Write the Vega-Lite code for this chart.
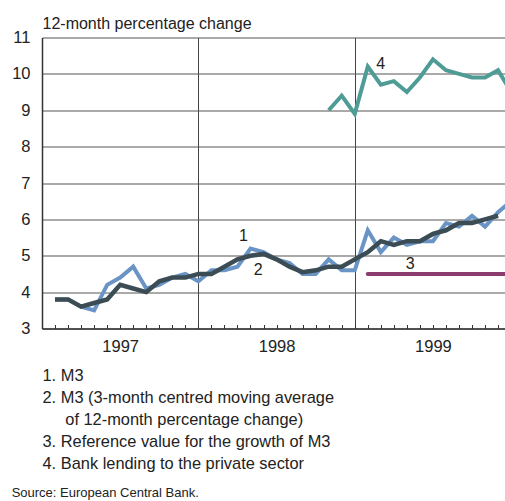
{
  "$schema": "https://vega.github.io/schema/vega-lite/v6.json",
  "width": 463,
  "height": 291,
  "autosize": {"type": "none"},
  "padding": {"left": 42, "top": 37.5, "right": 0, "bottom": 172.5},
  "background": "white",
  "config": {
    "view": {"stroke": null},
    "font": "Liberation Sans",
    "text": {"font": "Liberation Sans"}
  },
  "title": {
    "text": "Source: European Central Bank.",
    "orient": "bottom",
    "anchor": "start",
    "fontSize": 13,
    "fontWeight": "normal",
    "color": "#222222",
    "offset": 15
  },
  "datasets": {
    "series": [
      {"series": "M3", "month": "1997-01", "m": 1, "value": 3.8},
      {"series": "M3", "month": "1997-02", "m": 2, "value": 3.8},
      {"series": "M3", "month": "1997-03", "m": 3, "value": 3.6},
      {"series": "M3", "month": "1997-04", "m": 4, "value": 3.5},
      {"series": "M3", "month": "1997-05", "m": 5, "value": 4.2},
      {"series": "M3", "month": "1997-06", "m": 6, "value": 4.4},
      {"series": "M3", "month": "1997-07", "m": 7, "value": 4.7},
      {"series": "M3", "month": "1997-08", "m": 8, "value": 4.1},
      {"series": "M3", "month": "1997-09", "m": 9, "value": 4.2},
      {"series": "M3", "month": "1997-10", "m": 10, "value": 4.4},
      {"series": "M3", "month": "1997-11", "m": 11, "value": 4.5},
      {"series": "M3", "month": "1997-12", "m": 12, "value": 4.3},
      {"series": "M3", "month": "1998-01", "m": 13, "value": 4.6},
      {"series": "M3", "month": "1998-02", "m": 14, "value": 4.6},
      {"series": "M3", "month": "1998-03", "m": 15, "value": 4.7},
      {"series": "M3", "month": "1998-04", "m": 16, "value": 5.2},
      {"series": "M3", "month": "1998-05", "m": 17, "value": 5.1},
      {"series": "M3", "month": "1998-06", "m": 18, "value": 4.9},
      {"series": "M3", "month": "1998-07", "m": 19, "value": 4.8},
      {"series": "M3", "month": "1998-08", "m": 20, "value": 4.5},
      {"series": "M3", "month": "1998-09", "m": 21, "value": 4.5},
      {"series": "M3", "month": "1998-10", "m": 22, "value": 4.9},
      {"series": "M3", "month": "1998-11", "m": 23, "value": 4.6},
      {"series": "M3", "month": "1998-12", "m": 24, "value": 4.6},
      {"series": "M3", "month": "1999-01", "m": 25, "value": 5.7},
      {"series": "M3", "month": "1999-02", "m": 26, "value": 5.1},
      {"series": "M3", "month": "1999-03", "m": 27, "value": 5.5},
      {"series": "M3", "month": "1999-04", "m": 28, "value": 5.3},
      {"series": "M3", "month": "1999-05", "m": 29, "value": 5.4},
      {"series": "M3", "month": "1999-06", "m": 30, "value": 5.4},
      {"series": "M3", "month": "1999-07", "m": 31, "value": 5.9},
      {"series": "M3", "month": "1999-08", "m": 32, "value": 5.8},
      {"series": "M3", "month": "1999-09", "m": 33, "value": 6.1},
      {"series": "M3", "month": "1999-10", "m": 34, "value": 5.8},
      {"series": "M3", "month": "1999-11", "m": 35, "value": 6.2},
      {"series": "M3", "month": "1999-12", "m": 36, "value": 6.5},
      {"series": "M3 3-month average", "month": "1997-01", "m": 1, "value": 3.8},
      {"series": "M3 3-month average", "month": "1997-02", "m": 2, "value": 3.8},
      {"series": "M3 3-month average", "month": "1997-03", "m": 3, "value": 3.6},
      {"series": "M3 3-month average", "month": "1997-04", "m": 4, "value": 3.7},
      {"series": "M3 3-month average", "month": "1997-05", "m": 5, "value": 3.8},
      {"series": "M3 3-month average", "month": "1997-06", "m": 6, "value": 4.2},
      {"series": "M3 3-month average", "month": "1997-07", "m": 7, "value": 4.1},
      {"series": "M3 3-month average", "month": "1997-08", "m": 8, "value": 4.0},
      {"series": "M3 3-month average", "month": "1997-09", "m": 9, "value": 4.3},
      {"series": "M3 3-month average", "month": "1997-10", "m": 10, "value": 4.4},
      {"series": "M3 3-month average", "month": "1997-11", "m": 11, "value": 4.4},
      {"series": "M3 3-month average", "month": "1997-12", "m": 12, "value": 4.5},
      {"series": "M3 3-month average", "month": "1998-01", "m": 13, "value": 4.5},
      {"series": "M3 3-month average", "month": "1998-02", "m": 14, "value": 4.7},
      {"series": "M3 3-month average", "month": "1998-03", "m": 15, "value": 4.9},
      {"series": "M3 3-month average", "month": "1998-04", "m": 16, "value": 5.0},
      {"series": "M3 3-month average", "month": "1998-05", "m": 17, "value": 5.05},
      {"series": "M3 3-month average", "month": "1998-06", "m": 18, "value": 4.9},
      {"series": "M3 3-month average", "month": "1998-07", "m": 19, "value": 4.7},
      {"series": "M3 3-month average", "month": "1998-08", "m": 20, "value": 4.55},
      {"series": "M3 3-month average", "month": "1998-09", "m": 21, "value": 4.6},
      {"series": "M3 3-month average", "month": "1998-10", "m": 22, "value": 4.7},
      {"series": "M3 3-month average", "month": "1998-11", "m": 23, "value": 4.7},
      {"series": "M3 3-month average", "month": "1998-12", "m": 24, "value": 4.9},
      {"series": "M3 3-month average", "month": "1999-01", "m": 25, "value": 5.1},
      {"series": "M3 3-month average", "month": "1999-02", "m": 26, "value": 5.4},
      {"series": "M3 3-month average", "month": "1999-03", "m": 27, "value": 5.3},
      {"series": "M3 3-month average", "month": "1999-04", "m": 28, "value": 5.4},
      {"series": "M3 3-month average", "month": "1999-05", "m": 29, "value": 5.4},
      {"series": "M3 3-month average", "month": "1999-06", "m": 30, "value": 5.6},
      {"series": "M3 3-month average", "month": "1999-07", "m": 31, "value": 5.7},
      {"series": "M3 3-month average", "month": "1999-08", "m": 32, "value": 5.9},
      {"series": "M3 3-month average", "month": "1999-09", "m": 33, "value": 5.9},
      {"series": "M3 3-month average", "month": "1999-10", "m": 34, "value": 6.0},
      {"series": "M3 3-month average", "month": "1999-11", "m": 35, "value": 6.1},
      {"series": "Reference value", "month": "1999-01", "m": 25, "value": 4.5},
      {"series": "Reference value", "month": "1999-12", "m": 36, "value": 4.5},
      {"series": "Bank lending", "month": "1998-10", "m": 22, "value": 9.0},
      {"series": "Bank lending", "month": "1998-11", "m": 23, "value": 9.4},
      {"series": "Bank lending", "month": "1998-12", "m": 24, "value": 8.9},
      {"series": "Bank lending", "month": "1999-01", "m": 25, "value": 10.2},
      {"series": "Bank lending", "month": "1999-02", "m": 26, "value": 9.7},
      {"series": "Bank lending", "month": "1999-03", "m": 27, "value": 9.8},
      {"series": "Bank lending", "month": "1999-04", "m": 28, "value": 9.5},
      {"series": "Bank lending", "month": "1999-05", "m": 29, "value": 9.9},
      {"series": "Bank lending", "month": "1999-06", "m": 30, "value": 10.4},
      {"series": "Bank lending", "month": "1999-07", "m": 31, "value": 10.1},
      {"series": "Bank lending", "month": "1999-08", "m": 32, "value": 10.0},
      {"series": "Bank lending", "month": "1999-09", "m": 33, "value": 9.9},
      {"series": "Bank lending", "month": "1999-10", "m": 34, "value": 9.9},
      {"series": "Bank lending", "month": "1999-11", "m": 35, "value": 10.1},
      {"series": "Bank lending", "month": "1999-12", "m": 36, "value": 9.5}
    ],
    "labels": [
      {"label": "1", "m": 15.45, "value": 5.54},
      {"label": "2", "m": 16.6, "value": 4.61},
      {"label": "3", "m": 28.25, "value": 4.77},
      {"label": "4", "m": 26.0, "value": 10.26}
    ]
  },
  "encoding": {
    "x": {
      "field": "m",
      "type": "quantitative",
      "scale": {"domain": [0, 35.53], "nice": false, "zero": false},
      "axis": {
        "values": [1, 2, 3, 4, 5, 6, 7, 8, 9, 10, 11, 12, 13, 14, 15, 16, 17, 18, 19, 20, 21, 22, 23, 24, 25, 26, 27, 28, 29, 30, 31, 32, 33, 34, 35],
        "labelExpr": "datum.value == 6 ? '1997' : datum.value == 18 ? '1998' : datum.value == 30 ? '1999' : ''",
        "labelFontSize": 16.5,
        "labelColor": "#222222",
        "labelPadding": 14,
        "labelFlush": false,
        "labelOverlap": false,
        "labelBaseline": "top",
        "tickSize": -4,
        "tickColor": "#333333",
        "tickWidth": 1,
        "domainColor": "#333333",
        "domainWidth": 1.5,
        "grid": true,
        "gridColor": {"condition": {"test": "datum.value == 12 || datum.value == 24", "value": "#444444"}, "value": "rgba(0,0,0,0)"},
        "gridWidth": 1,
        "title": ["1. M3", "2. M3 (3-month centred moving average", "\u200b\u00a0\u00a0\u00a0\u00a0\u00a0of 12-month percentage change)", "3. Reference value for the growth of M3", "4. Bank lending to the private sector"],
        "titleFontSize": 16.4,
        "titleFontWeight": "normal",
        "titleColor": "#222222",
        "titleAnchor": "start",
        "titleAlign": "left",
        "titleBaseline": "alphabetic",
        "titleLineHeight": 22,
        "titleX": 0,
        "titleY": 52
      }
    },
    "y": {
      "field": "value",
      "type": "quantitative",
      "scale": {"domain": [3, 11], "nice": false, "zero": false},
      "axis": {
        "values": [3, 4, 5, 6, 7, 8, 9, 10, 11],
        "labelFontSize": 16.5,
        "labelColor": "#222222",
        "labelPadding": 12,
        "ticks": false,
        "domainColor": "#333333",
        "domainWidth": 1.5,
        "grid": true,
        "gridColor": "#555555",
        "gridWidth": 1,
        "title": "12-month percentage change",
        "titleFontSize": 16,
        "titleFontWeight": "normal",
        "titleColor": "#222222",
        "titleAngle": 0,
        "titleAlign": "left",
        "titleAnchor": "start",
        "titleBaseline": "alphabetic",
        "titleX": 0,
        "titleY": -9
      }
    }
  },
  "layer": [
    {
      "data": {"name": "series"},
      "transform": [{"filter": "datum.series == 'M3'"}],
      "mark": {"type": "line", "color": "#6a94c6", "strokeWidth": 4, "clip": true}
    },
    {
      "data": {"name": "series"},
      "transform": [{"filter": "datum.series == 'M3 3-month average'"}],
      "mark": {"type": "line", "color": "#3b4c54", "strokeWidth": 4.5, "clip": true}
    },
    {
      "data": {"name": "series"},
      "transform": [{"filter": "datum.series == 'Reference value'"}],
      "mark": {"type": "line", "color": "#8b3c6d", "strokeWidth": 4, "strokeCap": "round", "clip": true}
    },
    {
      "data": {"name": "series"},
      "transform": [{"filter": "datum.series == 'Bank lending'"}],
      "mark": {"type": "line", "color": "#4f9b95", "strokeWidth": 4, "clip": true}
    },
    {
      "data": {"name": "labels"},
      "mark": {"type": "text", "fontSize": 16, "color": "#222222", "align": "center", "baseline": "middle"},
      "encoding": {"text": {"field": "label", "type": "nominal"}}
    }
  ]
}
